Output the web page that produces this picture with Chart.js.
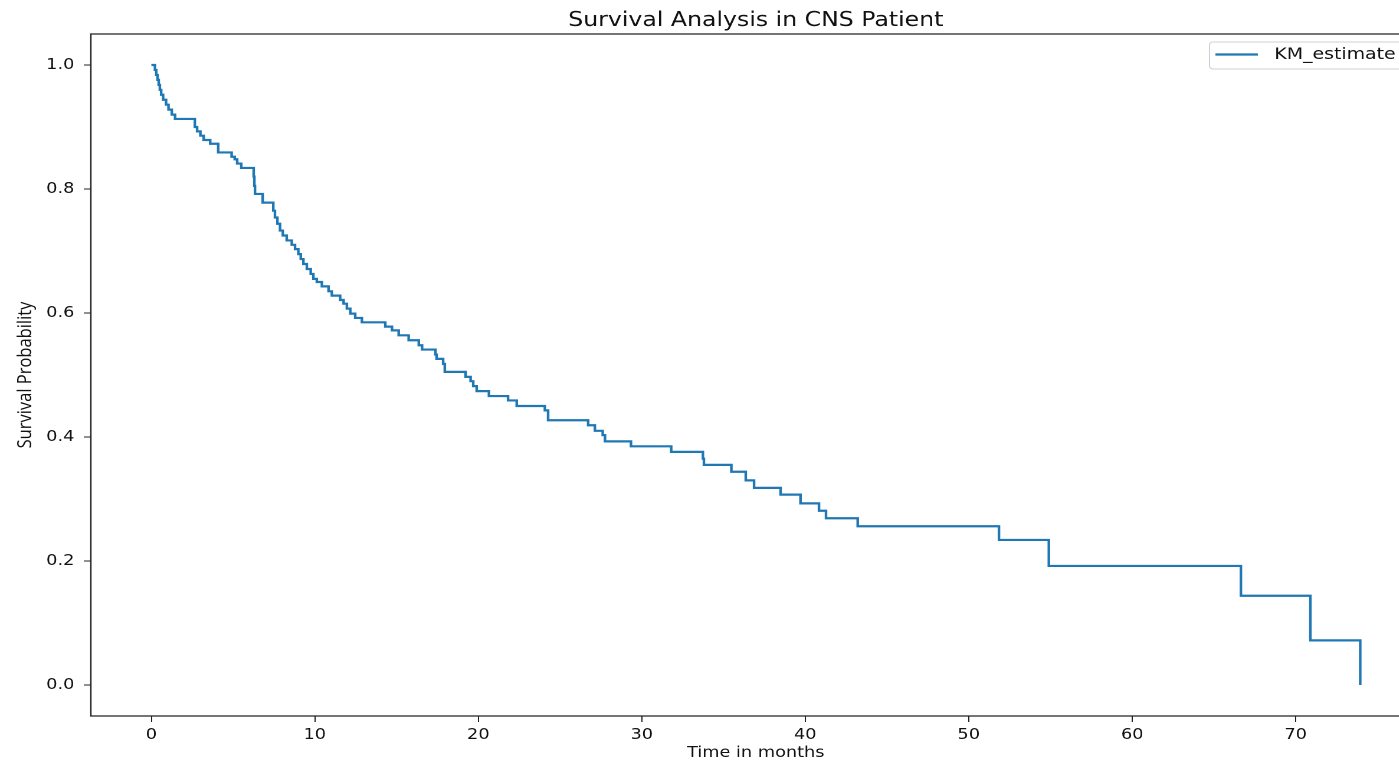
<!DOCTYPE html>
<html lang="en">
<head>
<meta charset="utf-8">
<title>Survival Analysis in CNS Patient</title>
<script src="https://cdn.jsdelivr.net/npm/chart.js@4.4.1/dist/chart.umd.min.js"></script>
<style>
  html, body { margin: 0; padding: 0; background: #fff; overflow: hidden; }
  /* the source figure is stretched sideways, so the canvas is too */
  #wrap { width: 1206px; height: 765px; transform: scaleX(1.18); transform-origin: 0 0; }
</style>
</head>
<body>
<div id="wrap"><canvas id="kmChart" width="1206" height="765"></canvas></div>
<script>
// Kaplan-Meier curve: time of each drop (months) and survival after it
const eventTimes = [
  0, 0.22, 0.30, 0.38, 0.45, 0.52, 0.60, 0.72, 0.90, 1.05,
  1.25, 1.45, 2.66, 2.80, 3.00, 3.20, 3.60, 4.09, 4.91, 5.10,
  5.25, 5.50, 6.26, 6.30, 6.34, 6.81, 7.46, 7.56, 7.71, 7.87,
  8.04, 8.28, 8.59, 8.79, 8.99, 9.14, 9.30, 9.51, 9.75, 9.91,
  10.12, 10.43, 10.84, 11.04, 11.55, 11.76, 11.96, 12.17, 12.47, 12.88,
  14.31, 14.72, 15.13, 15.74, 16.36, 16.56, 17.38, 17.45, 17.85, 17.95,
  19.22, 19.53, 19.69, 19.90, 20.65, 21.82, 22.35, 24.07, 24.27, 26.72,
  27.13, 27.61, 27.75, 29.34, 31.80, 33.74, 33.80, 35.48, 36.36, 36.87,
  38.49, 39.71, 40.84, 41.27, 43.21, 51.85, 54.90, 66.65, 70.90, 73.95
];
const survival = [
  1.000, 0.992, 0.984, 0.976, 0.968, 0.960, 0.952, 0.944, 0.936, 0.928,
  0.920, 0.913, 0.900, 0.893, 0.886, 0.879, 0.873, 0.859, 0.852, 0.848,
  0.841, 0.834, 0.820, 0.805, 0.792, 0.778, 0.765, 0.754, 0.744, 0.733,
  0.725, 0.717, 0.710, 0.703, 0.695, 0.687, 0.679, 0.671, 0.663, 0.655,
  0.650, 0.643, 0.635, 0.628, 0.621, 0.615, 0.607, 0.599, 0.592, 0.585,
  0.578, 0.572, 0.564, 0.556, 0.548, 0.541, 0.533, 0.526, 0.518, 0.505,
  0.497, 0.490, 0.482, 0.474, 0.466, 0.459, 0.450, 0.443, 0.427, 0.419,
  0.410, 0.403, 0.393, 0.385, 0.376, 0.365, 0.355, 0.344, 0.330, 0.318,
  0.307, 0.293, 0.281, 0.269, 0.256, 0.234, 0.192, 0.144, 0.072, 0.000
];

const xTickValues = [0, 10, 20, 30, 40, 50, 60, 70];
const yTickValues = [0.0, 0.2, 0.4, 0.6, 0.8, 1.0];

const seriesLabel = 'KM_estimate';
const chartTitle = 'Survival Analysis in CNS Patient';
const xAxisTitle = 'Time in months';
const yAxisTitle = 'Survival Probability';

(function () {
  'use strict';

  const LINE_COLOR = '#1f77b4';
  const INK = '#111';
  const FONT = 'DejaVu Sans';

  // frame, title and legend drawn matplotlib style
  const mplExtras = {
    id: 'mplExtras',
    afterDraw(chart) {
      const { ctx, chartArea: a } = chart;
      ctx.save();

      // left, top and bottom spines (the right one sits past the cropped edge)
      ctx.strokeStyle = '#222';
      ctx.lineWidth = 1.2;
      ctx.beginPath();
      ctx.moveTo(a.right + 10, a.top);
      ctx.lineTo(a.left, a.top);
      ctx.lineTo(a.left, a.bottom);
      ctx.lineTo(a.right + 10, a.bottom);
      ctx.stroke();

      ctx.fillStyle = INK;
      ctx.font = '20px "' + FONT + '"';
      ctx.textAlign = 'center';
      ctx.textBaseline = 'alphabetic';
      ctx.fillText(chartTitle, (a.left + a.right) / 2, 26);

      // legend box in the upper right corner, cut by the edge
      const bx = 1025, by = 42, bw = 200, bh = 27;
      ctx.beginPath();
      ctx.roundRect(bx, by, bw, bh, 3);
      ctx.fillStyle = 'rgba(255,255,255,0.8)';
      ctx.fill();
      ctx.strokeStyle = '#d0d0d0';
      ctx.lineWidth = 1;
      ctx.stroke();

      ctx.beginPath();
      ctx.moveTo(1030, 54.5);
      ctx.lineTo(1066, 54.5);
      ctx.strokeStyle = LINE_COLOR;
      ctx.lineWidth = 2.2;
      ctx.stroke();

      ctx.fillStyle = INK;
      ctx.font = '16px "' + FONT + '"';
      ctx.textAlign = 'left';
      ctx.textBaseline = 'middle';
      ctx.fillText(chart.data.datasets[0].label, 1080, 55);

      ctx.restore();
    }
  };

  const points = eventTimes.map((t, i) => ({ x: t, y: survival[i] }));

  new Chart(document.getElementById('kmChart'), {
    type: 'line',
    data: {
      datasets: [{
        label: seriesLabel,
        data: points,
        stepped: 'before',
        borderColor: LINE_COLOR,
        borderWidth: 2.2,
        pointRadius: 0,
        fill: false
      }]
    },
    options: {
      responsive: false,
      animation: false,
      devicePixelRatio: 2,
      layout: { padding: { top: 34, right: 2, left: 0, bottom: 0 } },
      plugins: {
        legend: { display: false },
        title: { display: false },
        tooltip: { enabled: false }
      },
      scales: {
        x: {
          type: 'linear',
          min: -3.7,
          max: 77.65,
          afterBuildTicks: axis => { axis.ticks = xTickValues.map(v => ({ value: v })); },
          afterFit: axis => { axis.height = 49; },
          border: { display: false },
          grid: { drawOnChartArea: false, drawTicks: true, tickLength: 6, tickColor: '#222', tickWidth: 1 },
          ticks: {
            padding: 4,
            color: INK,
            font: { family: FONT, size: 15 },
            callback: v => String(v)
          },
          title: {
            display: true,
            text: xAxisTitle,
            color: INK,
            font: { family: FONT, size: 15 },
            padding: { top: 0, bottom: 3 }
          }
        },
        y: {
          min: -0.05,
          max: 1.05,
          afterBuildTicks: axis => { axis.ticks = yTickValues.map(v => ({ value: v })); },
          afterFit: axis => { axis.width = 77; },
          border: { display: false },
          grid: { drawOnChartArea: false, drawTicks: true, tickLength: 6, tickColor: '#222', tickWidth: 1 },
          ticks: {
            padding: 8,
            color: INK,
            font: { family: FONT, size: 15 },
            callback: v => Number(v).toFixed(1)
          },
          title: {
            display: true,
            text: yAxisTitle,
            color: INK,
            font: { family: 'Open Sans', size: 16.5 },
            padding: { top: 12, bottom: 0 }
          }
        }
      }
    },
    plugins: [mplExtras]
  });
})();
</script>
</body>
</html>
